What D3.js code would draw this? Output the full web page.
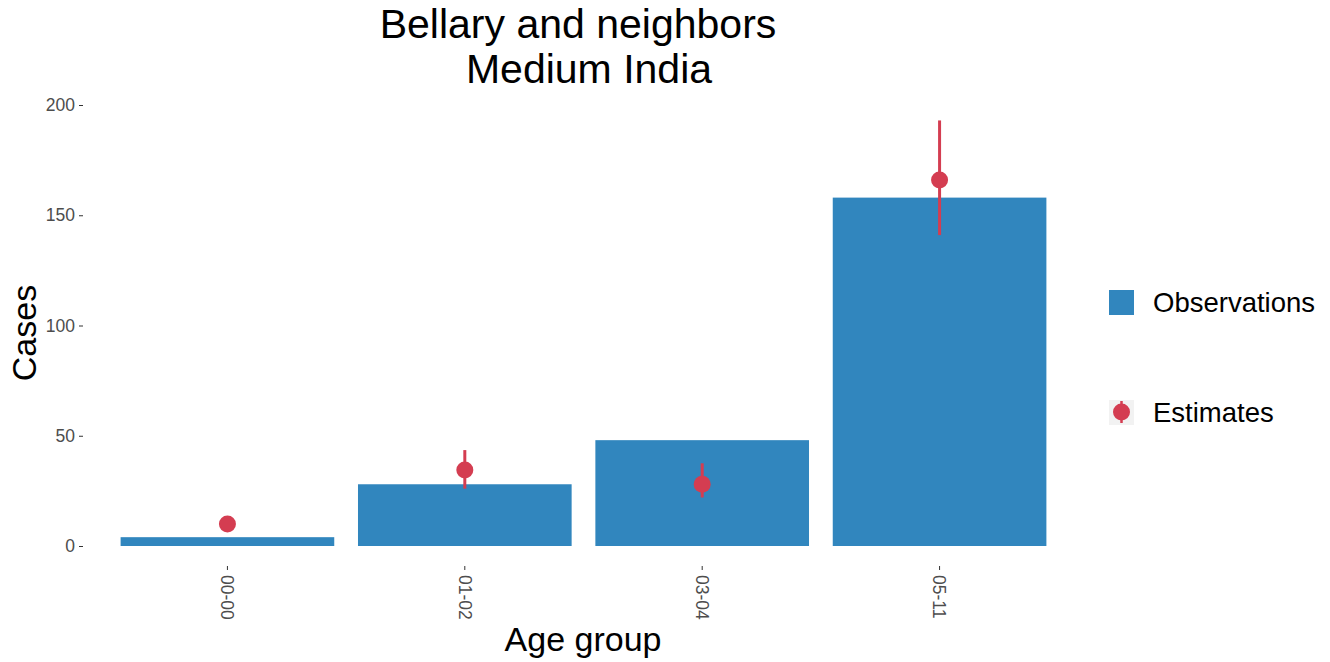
<!DOCTYPE html>
<html>
<head>
<meta charset="utf-8">
<script src="https://cdn.jsdelivr.net/npm/d3@7"></script>
<style>
  body { margin: 0; background: #fff; }
  svg { font-family: "Liberation Sans", Arial, sans-serif; }
  .axis path { display: none; }
  .axis line { stroke: #333; }
  .axis text { fill: #4d4d4d; font-size: 17.5px; }
</style>
</head>
<body>
<div id="chart"></div>
<script>
// values
var ageGroups = ["00-00", "01-02", "03-04", "05-11"];
var observed = [4, 28, 48, 158];
var estimate = [10, 34.5, 28, 166];
var estLow = [10, 26, 22, 141];
var estHigh = [10, 43.5, 37.5, 193];
var yTicks = [0, 50, 100, 150, 200];

var width = 1330, height = 662;
var margin = {top: 105, right: 248, bottom: 116, left: 85};

var svg = d3.select("#chart")
    .append("svg")
    .attr("width", width)
    .attr("height", height);

var x = d3.scaleBand()
    .domain(ageGroups)
    .range([margin.left, width - margin.right])
    .paddingInner(0.1)
    .paddingOuter(0.15);

var y = d3.scaleLinear()
    .domain([0, 200])
    .range([height - margin.bottom, margin.top]);

var barColor = "#3186be";
var dotColor = "#d43d51";

// y axis
svg.append("g")
    .attr("class", "axis")
    .attr("transform", "translate(" + (margin.left - 2) + ",0)")
    .call(d3.axisLeft(y).tickValues(yTicks).tickSize(4).tickPadding(4));

// x axis
var xAxis = svg.append("g")
    .attr("class", "axis")
    .attr("transform", "translate(0," + (height - margin.bottom + 20) + ")")
    .call(d3.axisBottom(x).tickSize(4).tickPadding(4));
xAxis.selectAll("text")
    .attr("transform", "rotate(90)")
    .attr("x", 9)
    .attr("y", 0)
    .attr("dy", "0.35em")
    .style("text-anchor", "start");

// bars
svg.append("g")
    .selectAll("rect")
    .data(observed)
    .enter()
    .append("rect")
    .attr("x", function(d, i) { return x(ageGroups[i]); })
    .attr("width", x.bandwidth())
    .attr("y", function(d) { return y(d); })
    .attr("height", function(d) { return y(0) - y(d); })
    .attr("fill", barColor);

// error bars and points
var est = svg.append("g");
est.selectAll("line")
    .data(estimate)
    .enter()
    .append("line")
    .attr("x1", function(d, i) { return x(ageGroups[i]) + x.bandwidth() / 2; })
    .attr("x2", function(d, i) { return x(ageGroups[i]) + x.bandwidth() / 2; })
    .attr("y1", function(d, i) { return y(estLow[i]); })
    .attr("y2", function(d, i) { return y(estHigh[i]); })
    .attr("stroke", dotColor)
    .attr("stroke-width", 3);
est.selectAll("circle")
    .data(estimate)
    .enter()
    .append("circle")
    .attr("cx", function(d, i) { return x(ageGroups[i]) + x.bandwidth() / 2; })
    .attr("cy", function(d) { return y(d); })
    .attr("r", 8.5)
    .attr("fill", dotColor);

// title
svg.append("text")
    .attr("x", 578)
    .attr("y", 38)
    .attr("text-anchor", "middle")
    .style("font-size", "41px")
    .text("Bellary and neighbors");
svg.append("text")
    .attr("x", 589)
    .attr("y", 83)
    .attr("text-anchor", "middle")
    .style("font-size", "41px")
    .text("Medium India");

// axis titles
svg.append("text")
    .attr("transform", "translate(36,333) rotate(-90)")
    .attr("text-anchor", "middle")
    .style("font-size", "34px")
    .text("Cases");
svg.append("text")
    .attr("x", 583)
    .attr("y", 651)
    .attr("text-anchor", "middle")
    .style("font-size", "34px")
    .text("Age group");

// legend
var legend = svg.append("g").attr("transform", "translate(1109,0)");
legend.append("rect")
    .attr("x", 0).attr("y", 290)
    .attr("width", 25).attr("height", 25)
    .attr("fill", barColor);
legend.append("text")
    .attr("x", 44).attr("y", 312)
    .style("font-size", "27.5px")
    .text("Observations");
legend.append("rect")
    .attr("x", 0).attr("y", 400)
    .attr("width", 25).attr("height", 25)
    .attr("fill", "#f2f2f2");
legend.append("line")
    .attr("x1", 12.5).attr("x2", 12.5)
    .attr("y1", 401).attr("y2", 423)
    .attr("stroke", dotColor).attr("stroke-width", 2.5);
legend.append("circle")
    .attr("cx", 12.5).attr("cy", 412)
    .attr("r", 8.5)
    .attr("fill", dotColor);
legend.append("text")
    .attr("x", 44).attr("y", 422)
    .style("font-size", "27.5px")
    .text("Estimates");
</script>
</body>
</html>
